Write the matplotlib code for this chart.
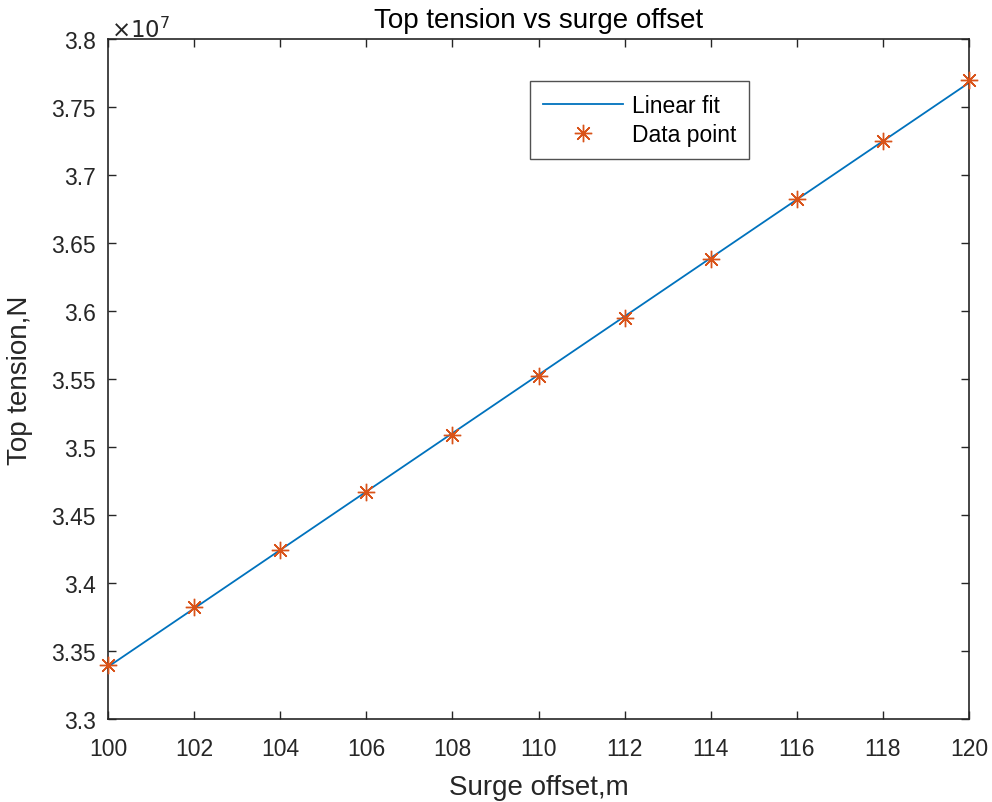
import numpy as np
import matplotlib
matplotlib.use("Agg")
import matplotlib.pyplot as plt

# Data
surge_offset = [100, 102, 104, 106, 108, 110, 112, 114, 116, 118, 120]
top_tension = [3.340e7, 3.382e7, 3.424e7, 3.467e7, 3.509e7, 3.552e7,
               3.595e7, 3.638e7, 3.682e7, 3.725e7, 3.770e7]
x_ticks = [100, 102, 104, 106, 108, 110, 112, 114, 116, 118, 120]
y_ticks = [3.3, 3.35, 3.4, 3.45, 3.5, 3.55, 3.6, 3.65, 3.7, 3.75, 3.8]

plt.rcParams['font.family'] = ['Liberation Sans', 'DejaVu Sans']
AX = '#262626'

W, H = 992, 803
fig = plt.figure(figsize=(W / 100, H / 100), dpi=100)
ax = fig.add_axes([108 / W, (H - 720) / H, (969 - 108) / W, (720 - 40) / H])

xs = np.array(surge_offset, dtype=float)
ys = np.array(top_tension, dtype=float) / 1e7
coef = np.polyfit(xs, ys, 1)
xfit = np.linspace(xs.min(), xs.max(), 200)
ax.plot(xfit, np.polyval(coef, xfit), color='#0072BD', lw=1.3, label='Linear fit')
ax.plot(xs, ys, linestyle='none', marker=(8, 2, 0), markersize=12.5,
        markeredgewidth=1.0, color='#D95319', label='Data point', clip_on=False,
        zorder=5)

ax.set_xlim(100, 120)
ax.set_ylim(3.3, 3.8)
ax.set_xticks(x_ticks)
ax.set_yticks(y_ticks)
ax.set_yticklabels([f'{v:g}' for v in y_ticks])
ax.tick_params(direction='in', top=True, right=True, length=6, width=1.0,
               colors=AX, labelsize=16.5)
ax.tick_params(axis='x', pad=13)
ax.tick_params(axis='y', pad=9)
for s in ax.spines.values():
    s.set_color(AX)
    s.set_linewidth(1.2)

ax.set_title('Top tension vs surge offset', fontsize=20, color='black', pad=8.5)
ax.set_xlabel('Surge offset,m', fontsize=20, color=AX, va='center')
ax.xaxis.set_label_coords(0.5, (720 - 788) / 680)
ax.set_ylabel('Top tension,N', fontsize=20, color=AX, va='center')
ax.yaxis.set_label_coords((20 - 108) / 861, 0.5)
ax.text(0.004, 0.996, r'$\times10^{7}$', transform=ax.transAxes, fontsize=16.5,
        color=AX, ha='left', va='bottom', family='DejaVu Sans')

leg = ax.legend(loc='upper left', bbox_to_anchor=((530 - 108) / 861, 1 - (82 - 40) / 680),
                fontsize=16.5, frameon=True, fancybox=False, borderpad=0.55,
                handlelength=3.5, handletextpad=0.4, labelspacing=0.3,
                borderaxespad=0)
leg.get_frame().set_edgecolor(AX)
leg.get_frame().set_linewidth(1.0)

fig.savefig('out.png', dpi=100)
